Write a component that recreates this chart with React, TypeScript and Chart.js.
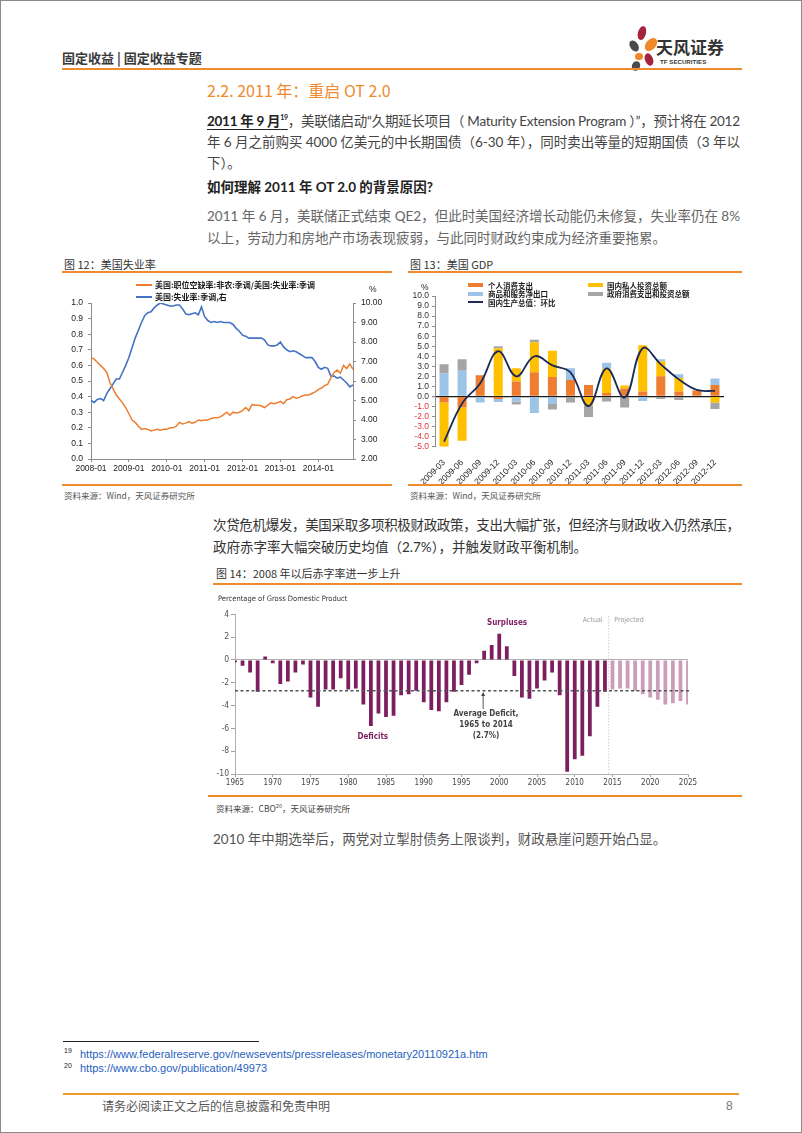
import React, { useEffect, useLayoutEffect, useRef } from "react";
import { Chart, registerables } from "chart.js";

Chart.register(...registerables);

const BODY_FONT = "Lato, 'Noto Sans CJK SC', sans-serif";
const CJK_FONT = "'Noto Sans CJK SC', 'Noto Sans', sans-serif";
const ARIAL = "'Liberation Sans', Arial, sans-serif";
const NARROW = "'Liberation Sans Narrow', 'DejaVu Sans Condensed', 'Liberation Sans', sans-serif";
const ORANGE_RULE = "#EE8C2C";

// ---------------- Figure 12 data ----------------
const F12_YEARS = ["2008", "2009", "2010", "2011", "2012", "2013", "2014"];
const F12_MONTH_NUMS = ["01", "02", "03", "04", "05", "06", "07", "08", "09", "10", "11", "12"];
const F12_MONTHS = F12_YEARS.flatMap((y) => F12_MONTH_NUMS.map((m) => `${y}-${m}`));
const F12_LEGEND = ["美国:职位空缺率:非农:季调/美国:失业率:季调", "美国:失业率:季调,右"];
const F12_RATIO = [
  0.65, 0.64, 0.62, 0.6, 0.58, 0.555, 0.49, 0.45, 0.41, 0.385, 0.36, 0.33,
  0.29, 0.25, 0.235, 0.21, 0.19, 0.195, 0.19, 0.18, 0.185, 0.19, 0.185, 0.19,
  0.19, 0.2, 0.2, 0.21, 0.235, 0.225, 0.23, 0.24, 0.23, 0.235, 0.25, 0.245,
  0.25, 0.25, 0.26, 0.265, 0.265, 0.27, 0.285, 0.3, 0.28, 0.3, 0.295, 0.3,
  0.31, 0.33, 0.31, 0.35, 0.345, 0.345, 0.34, 0.33, 0.345, 0.36, 0.355, 0.36,
  0.37, 0.355, 0.38, 0.385, 0.4, 0.39, 0.395, 0.405, 0.41, 0.41, 0.42, 0.43,
  0.445, 0.455, 0.47, 0.48, 0.52, 0.555, 0.57, 0.55, 0.6, 0.58, 0.61, 0.575,
];
const F12_UNRATE = [
  5.0, 4.9, 5.05, 5.1, 5.0, 5.35, 5.6, 5.85, 6.1, 6.1, 6.45, 6.8,
  7.2, 7.7, 8.2, 8.6, 9.0, 9.35, 9.5, 9.55, 9.75, 9.9, 10.0, 9.95,
  9.9, 9.85, 9.85, 9.9, 9.9, 9.7, 9.45, 9.4, 9.45, 9.5, 9.4, 9.8,
  9.3, 9.1, 9.0, 9.05, 9.0, 9.05, 9.0, 9.0, 9.0, 8.9, 8.7, 8.55,
  8.35, 8.3, 8.2, 8.2, 8.2, 8.2, 8.2, 8.1, 7.85, 7.8, 7.8, 7.85,
  8.0, 7.75, 7.6, 7.5, 7.55, 7.5, 7.4, 7.3, 7.2, 7.2, 7.2, 7.0,
  6.7, 6.6, 6.7, 6.65, 6.25, 6.25, 6.15, 6.2, 6.05, 5.9, 5.7, 5.8,
];

// ---------------- Figure 13 data ----------------
const F13_QUARTERS = [
  "2009-03", "2009-06", "2009-09", "2009-12", "2010-03", "2010-06", "2010-09", "2010-12",
  "2011-03", "2011-06", "2011-09", "2011-12", "2012-03", "2012-06", "2012-09", "2012-12",
];
const F13_LEGEND = ["个人消费支出", "国内私人投资总额", "商品和服务净出口", "政府消费支出和投资总额", "国内生产总值：环比"];
const F13_PCE = [-0.6, -1.1, 2.1, -0.25, 1.5, 2.4, 1.95, 1.65, 1.15, 0.35, 0.8, 0.5, 2.0, 0.5, 0.6, 1.15];
const F13_INV = [-4.4, -3.3, 0, 4.8, 1.3, 3.0, 2.6, 0, -0.9, 2.4, 0.3, 4.6, 1.5, 1.35, 0, -0.6];
const F13_NX = [2.3, 2.55, -0.6, -0.3, -0.5, -1.65, -0.75, 1.15, 0, 0.6, 0, -0.45, 0.2, 0.35, 0, 0.65];
const F13_GOV = [0.9, 1.15, 0, 0.2, -0.3, 0.25, -0.55, -0.6, -1.15, -0.5, -1.1, 0, -0.25, -0.35, 0, -0.65];
const F13_GDP = [-4.5, -0.7, 1.3, 4.5, 2.0, 4.0, 3.1, 2.4, -0.95, 2.8, -0.1, 4.8, 3.2, 1.7, 0.65, 0.55];
const F13_COLORS = ["#ED7D31", "#FFC000", "#9DC3E6", "#A5A5A5", "#1C2A57"];

// ---------------- Figure 14 data ----------------
const F14_FIRST_YEAR = 1965;
const F14_DEFICIT = [
  -0.2, -0.5, -1.1, -2.8, 0.3, -0.3, -2.1, -1.9, -1.1, -0.4,
  -3.3, -4.1, -2.6, -2.6, -1.6, -2.6, -2.5, -3.9, -5.8, -4.7,
  -5.0, -4.9, -3.1, -3.0, -2.7, -3.7, -4.4, -4.5, -3.7, -2.8,
  -2.2, -1.3, -0.3, 0.8, 1.3, 2.3, 1.2, -1.4, -3.3, -3.4,
  -2.5, -1.8, -1.1, -3.1, -9.8, -8.7, -8.4, -6.7, -4.1, -2.8,
  -2.6, -2.5, -2.5, -2.7, -3.0, -3.3, -3.5, -3.9, -3.8, -3.6, -3.9,
];
const F14_YEARS = F14_DEFICIT.map((_, i) => String(F14_FIRST_YEAR + i));
const F14_LAST_ACTUAL = "2014";
const F14_ARROW_YEAR = "1998";
const F14_AVG = -2.7;
const F14_PURPLE = "#7D1E60";
const F14_PINK = "#CC9DBA";

// ---------------- helpers ----------------
function TextLine(props: any) {
  const { x, y, w, size = 13.5, color = "#444", weight = 400, fit = false, family = BODY_FONT, children, style } = props;
  const ref = useRef<HTMLSpanElement>(null);
  useLayoutEffect(() => {
    const el = ref.current;
    if (!fit || !el) return;
    const apply = () => {
      el.style.letterSpacing = "0px";
      const width = el.getBoundingClientRect().width;
      const n = (el.textContent || "").length;
      if (n > 1) el.style.letterSpacing = (w - width) / (n - 1) + "px";
    };
    apply();
    const fonts = (document as any).fonts;
    if (fonts && fonts.ready) fonts.ready.then(apply);
  }, []);
  const h = Math.round(size * 1.5);
  return (
    <div
      style={{
        position: "absolute",
        left: x,
        top: y - h / 2,
        height: h,
        lineHeight: h + "px",
        whiteSpace: "nowrap",
        fontSize: size,
        color,
        fontWeight: weight,
        fontFamily: family,
        ...style,
      }}
    >
      <span ref={ref} style={{ display: "inline-block" }}>
        {children}
      </span>
    </div>
  );
}

function Rule({ x, y, w, h = 1.5, color = ORANGE_RULE }: any) {
  return <div style={{ position: "absolute", left: x, top: y - h / 2, width: w, height: h, background: color }} />;
}

function useChart(ref: any, build: () => any) {
  useEffect(() => {
    if (!ref.current) return;
    const chart = new Chart(ref.current, build());
    return () => chart.destroy();
  }, []);
}

// ---------------- Figure 12 ----------------
function Fig12() {
  const ref = useRef<HTMLCanvasElement>(null);
  useChart(ref, () => ({
    type: "line",
    data: {
      labels: F12_MONTHS,
      datasets: [
        { label: F12_LEGEND[0], data: F12_RATIO, borderColor: "#ED7D31", borderWidth: 1.5, pointRadius: 0, yAxisID: "y", tension: 0 },
        { label: F12_LEGEND[1], data: F12_UNRATE, borderColor: "#4472C4", borderWidth: 1.6, pointRadius: 0, yAxisID: "y1", tension: 0 },
      ],
    },
    options: {
      animation: false,
      responsive: false,
      maintainAspectRatio: false,
      layout: { padding: { top: 29, right: 0, left: 0, bottom: 0 } },
      plugins: { legend: { display: false }, tooltip: { enabled: false } },
      scales: {
        x: {
          type: "category",
          offset: false,
          grid: {
            display: true,
            drawOnChartArea: false,
            tickLength: 3,
            color: (c: any) => (c.index % 12 === 0 ? "#8c8c8c" : "rgba(0,0,0,0)"),
          },
          border: { color: "#8c8c8c" },
          ticks: {
            autoSkip: false,
            maxRotation: 0,
            minRotation: 0,
            padding: 2,
            color: "#222",
            font: { family: ARIAL, size: 8.5 },
            callback: (_v: any, i: number) => (i % 12 === 0 ? F12_MONTHS[i] : ""),
          },
          afterFit: (s: any) => {
            s.height = 25;
          },
        },
        y: {
          position: "left",
          min: 0,
          max: 1,
          ticks: { autoSkip: false, stepSize: 0.1, padding: 5, color: "#222", font: { family: ARIAL, size: 8.5 }, callback: (v: any) => Number(v).toFixed(1) },
          grid: { drawOnChartArea: false, tickLength: 3, color: "#8c8c8c" },
          border: { color: "#8c8c8c" },
          afterFit: (s: any) => {
            s.width = 29;
          },
        },
        y1: {
          position: "right",
          min: 2,
          max: 10,
          ticks: { autoSkip: false, stepSize: 1, padding: 5, color: "#222", font: { family: ARIAL, size: 8.5 }, callback: (v: any) => Number(v).toFixed(2) },
          grid: { drawOnChartArea: false, tickLength: 3, color: "#8c8c8c" },
          border: { color: "#8c8c8c" },
          afterFit: (s: any) => {
            s.width = 39;
          },
        },
      },
    },
  }));
  return (
    <>
      <canvas ref={ref} width={330} height={210} style={{ position: "absolute", left: 62, top: 274, width: 330, height: 210 }} />
      <div style={{ position: "absolute", left: 136, top: 284, width: 16, height: 1.8, background: "#ED7D31" }} />
      <TextLine x={155} y={285} size={8} family={CJK_FONT} weight={700} color="#1a1a1a">
        {F12_LEGEND[0]}
      </TextLine>
      <div style={{ position: "absolute", left: 136, top: 295.8, width: 16, height: 1.8, background: "#4472C4" }} />
      <TextLine x={155} y={296.7} size={8} family={CJK_FONT} weight={700} color="#1a1a1a">
        {F12_LEGEND[1]}
      </TextLine>
      <TextLine x={369} y={289} size={8.5} family={ARIAL} color="#222">
        %
      </TextLine>
    </>
  );
}

// ---------------- Figure 13 ----------------
function Fig13() {
  const ref = useRef<HTMLCanvasElement>(null);
  useChart(ref, () => ({
    type: "bar",
    data: {
      labels: F13_QUARTERS,
      datasets: [
        { type: "line", label: F13_LEGEND[4], data: F13_GDP, borderColor: F13_COLORS[4], borderWidth: 1.8, pointRadius: 0, tension: 0.4, stack: "line", order: 0 },
        { type: "bar", label: F13_LEGEND[0], data: F13_PCE, backgroundColor: F13_COLORS[0], stack: "bars", order: 1 },
        { type: "bar", label: F13_LEGEND[1], data: F13_INV, backgroundColor: F13_COLORS[1], stack: "bars", order: 1 },
        { type: "bar", label: F13_LEGEND[2], data: F13_NX, backgroundColor: F13_COLORS[2], stack: "bars", order: 1 },
        { type: "bar", label: F13_LEGEND[3], data: F13_GOV, backgroundColor: F13_COLORS[3], stack: "bars", order: 1 },
      ],
    },
    options: {
      animation: false,
      responsive: false,
      maintainAspectRatio: false,
      datasets: { bar: { barPercentage: 0.5, categoryPercentage: 1 } },
      layout: { padding: { top: 22, right: 18, left: 0, bottom: 0 } },
      plugins: { legend: { display: false }, tooltip: { enabled: false } },
      scales: {
        x: {
          type: "category",
          stacked: true,
          offset: true,
          grid: { display: false },
          border: { display: false },
          ticks: { autoSkip: false, minRotation: 45, maxRotation: 45, padding: 3, color: "#222", font: { family: ARIAL, size: 8.5 } },
          afterFit: (s: any) => {
            s.height = 37.3;
          },
        },
        y: {
          stacked: true,
          min: -5,
          max: 10,
          ticks: {
            autoSkip: false,
            stepSize: 1,
            padding: 3,
            font: { family: ARIAL, size: 8.5 },
            color: (c: any) => (c.tick && c.tick.value < 0 ? "#E2363E" : "#333"),
            callback: (v: any) => Number(v).toFixed(1),
          },
          grid: {
            drawOnChartArea: true,
            tickLength: 3,
            tickColor: "#8c8c8c",
            color: (c: any) => (c.tick && Math.abs(c.tick.value) < 1e-9 ? "#1a1a1a" : "rgba(0,0,0,0)"),
            lineWidth: (c: any) => (c.tick && Math.abs(c.tick.value) < 1e-9 ? 1.2 : 1),
          },
          border: { color: "#8c8c8c" },
          afterFit: (s: any) => {
            s.width = 27;
          },
        },
      },
    },
  }));
  const box = (x: number, y: number, c: string) => (
    <div style={{ position: "absolute", left: x, top: y - 2.3, width: 15, height: 4.6, background: c }} />
  );
  const rows = [285, 293.8, 302.4];
  return (
    <>
      <canvas ref={ref} width={334} height={210} style={{ position: "absolute", left: 408, top: 274, width: 334, height: 210 }} />
      <TextLine x={421} y={287} size={8.5} family={ARIAL} color="#222">
        %
      </TextLine>
      {box(468, rows[0], F13_COLORS[0])}
      <TextLine x={488} y={rows[0]} size={7.5} family={CJK_FONT} weight={700} color="#1a1a1a">
        {F13_LEGEND[0]}
      </TextLine>
      {box(588, rows[0], F13_COLORS[1])}
      <TextLine x={607} y={rows[0]} size={7.5} family={CJK_FONT} weight={700} color="#1a1a1a">
        {F13_LEGEND[1]}
      </TextLine>
      {box(468, rows[1], F13_COLORS[2])}
      <TextLine x={488} y={rows[1]} size={7.5} family={CJK_FONT} weight={700} color="#1a1a1a">
        {F13_LEGEND[2]}
      </TextLine>
      {box(588, rows[1], F13_COLORS[3])}
      <TextLine x={607} y={rows[1]} size={7.5} family={CJK_FONT} weight={700} color="#1a1a1a">
        {F13_LEGEND[3]}
      </TextLine>
      <div style={{ position: "absolute", left: 468, top: rows[2] - 1, width: 15, height: 2, background: F13_COLORS[4] }} />
      <TextLine x={488} y={rows[2]} size={7.5} family={CJK_FONT} weight={700} color="#1a1a1a">
        {F13_LEGEND[4]}
      </TextLine>
    </>
  );
}

// ---------------- Figure 14 ----------------
const f14Overlay = {
  id: "f14Overlay",
  afterDatasetsDraw(chart: any) {
    const { ctx, chartArea, scales } = chart;
    const x = scales.x;
    const y = scales.y;
    ctx.save();
    const yAvg = y.getPixelForValue(F14_AVG);
    ctx.strokeStyle = "#555";
    ctx.lineWidth = 1.3;
    ctx.setLineDash([3, 2.5]);
    ctx.beginPath();
    ctx.moveTo(chartArea.left, yAvg);
    ctx.lineTo(chartArea.right + 2, yAvg);
    ctx.stroke();
    const i = F14_YEARS.indexOf(F14_LAST_ACTUAL);
    const xd = (x.getPixelForValue(i) + x.getPixelForValue(i + 1)) / 2;
    ctx.strokeStyle = "#b8b8b8";
    ctx.lineWidth = 1;
    ctx.setLineDash([1, 2]);
    ctx.beginPath();
    ctx.moveTo(xd, chartArea.top + 2);
    ctx.lineTo(xd, chartArea.bottom);
    ctx.stroke();
    const xa = x.getPixelForValue(F14_YEARS.indexOf(F14_ARROW_YEAR)) - 1;
    const yTip = y.getPixelForValue(F14_AVG - 0.12);
    const yTail = y.getPixelForValue(F14_AVG - 1.6);
    ctx.setLineDash([]);
    ctx.strokeStyle = "#444";
    ctx.fillStyle = "#444";
    ctx.lineWidth = 0.9;
    ctx.beginPath();
    ctx.moveTo(xa, yTail);
    ctx.lineTo(xa, yTip + 3);
    ctx.stroke();
    ctx.beginPath();
    ctx.moveTo(xa, yTip);
    ctx.lineTo(xa - 2, yTip + 4);
    ctx.lineTo(xa + 2, yTip + 4);
    ctx.closePath();
    ctx.fill();
    ctx.restore();
  },
};

function Fig14() {
  const ref = useRef<HTMLCanvasElement>(null);
  useChart(ref, () => ({
    type: "bar",
    data: {
      labels: F14_YEARS,
      datasets: [
        {
          label: "Deficit",
          data: F14_DEFICIT,
          backgroundColor: F14_YEARS.map((yr) => (Number(yr) <= Number(F14_LAST_ACTUAL) ? F14_PURPLE : F14_PINK)),
          barPercentage: 0.5,
          categoryPercentage: 1,
        },
      ],
    },
    plugins: [f14Overlay],
    options: {
      animation: false,
      responsive: false,
      maintainAspectRatio: false,
      layout: { padding: { top: 28.3, right: 54, left: 0, bottom: 0 } },
      plugins: { legend: { display: false }, tooltip: { enabled: false } },
      scales: {
        x: {
          type: "category",
          offset: false,
          grid: {
            offset: false,
            drawOnChartArea: false,
            tickLength: 3,
            color: (c: any) => (Number(F14_YEARS[c.index]) % 5 === 0 ? "#a0a0a0" : "rgba(0,0,0,0)"),
          },
          border: { color: "#b0b0b0" },
          ticks: {
            autoSkip: false,
            maxRotation: 0,
            minRotation: 0,
            padding: 1,
            color: "#444",
            font: { family: NARROW, size: 8 },
            callback: (_v: any, i: number) => (Number(F14_YEARS[i]) % 5 === 0 ? F14_YEARS[i] : ""),
          },
          afterFit: (s: any) => {
            s.height = 21;
          },
        },
        y: {
          min: -10,
          max: 4,
          ticks: { autoSkip: false, stepSize: 2, padding: 2, color: "#555", font: { family: NARROW, size: 8.5 } },
          grid: {
            drawOnChartArea: true,
            tickLength: 4,
            tickColor: "#a0a0a0",
            color: (c: any) => (c.tick && c.tick.value === 0 ? "#b0b0b0" : "rgba(0,0,0,0)"),
          },
          border: { color: "#b0b0b0" },
          afterFit: (s: any) => {
            s.width = 22;
          },
        },
      },
    },
  }));
  const ann = { fontFamily: NARROW, fontWeight: 700 };
  return (
    <>
      <canvas ref={ref} width={529} height={209} style={{ position: "absolute", left: 213, top: 586, width: 529, height: 209 }} />
      <TextLine x={218} y={598} size={7.5} family={NARROW} color="#333">
        Percentage of Gross Domestic Product
      </TextLine>
      <TextLine x={487} y={622.7} size={8} family={NARROW} weight={700} color={F14_PURPLE}>
        Surpluses
      </TextLine>
      <TextLine x={357.5} y={736.7} size={8} family={NARROW} weight={700} color={F14_PURPLE}>
        Deficits
      </TextLine>
      {["Average Deficit,", "1965 to 2014", "(2.7%)"].map((t, k) => (
        <div
          key={k}
          style={{
            position: "absolute",
            left: 446,
            width: 80,
            top: 714 + k * 10.9 - 6,
            height: 12,
            lineHeight: "12px",
            textAlign: "center",
            fontSize: 8,
            color: "#444",
            whiteSpace: "nowrap",
            ...ann,
          }}
        >
          {t}
        </div>
      ))}
      <div style={{ position: "absolute", left: 560, width: 42.5, top: 614, height: 12, lineHeight: "12px", textAlign: "right", fontSize: 7, color: "#999", fontFamily: NARROW }}>
        Actual
      </div>
      <div style={{ position: "absolute", left: 614.3, top: 614, height: 12, lineHeight: "12px", fontSize: 7, color: "#999", fontFamily: NARROW }}>
        Projected
      </div>
    </>
  );
}

// ---------------- Logo ----------------
const PETALS = [
  { cx: 641.5, cy: 33, rx: 3.8, ry: 6.8, rot: 15, c: "#A3243C" },
  { cx: 650.5, cy: 44, rx: 5, ry: 7.5, rot: 40, c: "#F0892A" },
  { cx: 633.5, cy: 46, rx: 4, ry: 5.8, rot: -35, c: "#4B4B4B" },
  { cx: 639, cy: 56.5, rx: 3.6, ry: 3.6, rot: 0, c: "#F0892A" },
  { cx: 649, cy: 59.5, rx: 4, ry: 6.5, rot: -20, c: "#A3243C" },
  { cx: 636, cy: 66, rx: 4, ry: 5, rot: 25, c: "#4B4B4B" },
];

function Logo() {
  return (
    <>
      {PETALS.map((p, i) => (
        <div
          key={i}
          style={{
            position: "absolute",
            left: p.cx - p.rx,
            top: p.cy - p.ry,
            width: p.rx * 2,
            height: p.ry * 2,
            borderRadius: "50%",
            background: p.c,
            transform: `rotate(${p.rot}deg)`,
          }}
        />
      ))}
      <TextLine x={656} y={47} size={17} family={CJK_FONT} weight={700} color="#333">
        天风证券
      </TextLine>
      <TextLine x={660} y={62} size={6} family={ARIAL} weight={700} color="#333" style={{ letterSpacing: "0.1px" }}>
        TF SECURITIES
      </TextLine>
    </>
  );
}

// ---------------- App ----------------
export default function App() {
  const sup = { fontSize: 7, verticalAlign: "6px", lineHeight: 0 } as any;
  return (
    <div
      style={{
        position: "absolute",
        left: 0,
        top: 0,
        width: 802,
        height: 1133,
        boxSizing: "border-box",
        border: "1px solid #8a8a8a",
        background: "#fff",
        overflow: "hidden",
        fontFamily: CJK_FONT,
      }}
    >
      <div style={{ position: "absolute", left: -1, top: -1, width: 802, height: 1133 }}>
        {/* header */}
        <TextLine x={62} y={58} size={13} family={CJK_FONT} weight={700} color="#3a3a3a">
          固定收益 | 固定收益专题
        </TextLine>
        <Logo />
        <Rule x={62} y={68.5} w={680} h={2} />

        {/* section 2.2 */}
        <TextLine x={207} y={90} size={16} family={CJK_FONT} color="#EE8A2B">
          2.2. 2011 年：重启 OT 2.0
        </TextLine>

        <TextLine x={207} y={121} w={533} fit size={13.5} color="#444">
          <span style={{ fontWeight: 700, color: "#222", textDecoration: "underline", textUnderlineOffset: "3px" }}>
            2011 年 9 月<span style={sup}>19</span>
          </span>
          ，美联储启动“久期延长项目（ Maturity Extension Program ）”，预计将在 2012
        </TextLine>
        <TextLine x={207} y={142} w={533} fit size={13.5} color="#444">
          年 6 月之前购买 4000 亿美元的中长期国债（6-30 年），同时卖出等量的短期国债（3 年以
        </TextLine>
        <TextLine x={207} y={163} size={13.5} color="#444">
          下）。
        </TextLine>

        <TextLine x={207} y={187} size={13.5} weight={700} color="#222" style={{ textDecoration: "underline", textUnderlineOffset: "4px" }}>
          如何理解 2011 年 OT 2.0 的背景原因?
        </TextLine>

        <TextLine x={207} y={216} w={533} fit size={13.5} color="#666">
          2011 年 6 月，美联储正式结束 QE2，但此时美国经济增长动能仍未修复，失业率仍在 8%
        </TextLine>
        <TextLine x={207} y={238} size={13.5} color="#666">
          以上，劳动力和房地产市场表现疲弱，与此同时财政约束成为经济重要拖累。
        </TextLine>

        {/* figure 12 & 13 captions */}
        <TextLine x={64} y={264} size={11} family={CJK_FONT} color="#333">
          图 12：美国失业率
        </TextLine>
        <Rule x={62} y={272} w={330} h={1.5} />
        <TextLine x={410} y={264} size={11} family={CJK_FONT} color="#333">
          图 13：美国 GDP
        </TextLine>
        <Rule x={408} y={272} w={334} h={1.5} />

        <Fig12 />
        <Fig13 />

        <Rule x={62} y={485} w={330} h={1.5} />
        <Rule x={408} y={485} w={334} h={1.5} />
        <TextLine x={64} y={495} size={8.5} family={CJK_FONT} color="#555">
          资料来源：Wind，天风证券研究所
        </TextLine>
        <TextLine x={410} y={495} size={8.5} family={CJK_FONT} color="#555">
          资料来源：Wind，天风证券研究所
        </TextLine>

        <TextLine x={213} y={525} w={527} fit size={13.5} color="#333">
          次贷危机爆发，美国采取多项积极财政政策，支出大幅扩张，但经济与财政收入仍然承压，
        </TextLine>
        <TextLine x={213} y={547} size={13.5} color="#333">
          政府赤字率大幅突破历史均值（2.7%），并触发财政平衡机制。
        </TextLine>

        {/* figure 14 */}
        <TextLine x={216} y={573} size={11} family={CJK_FONT} color="#333">
          图 14：2008 年以后赤字率进一步上升
        </TextLine>
        <Rule x={213} y={584} w={529} h={1.5} />
        <Fig14 />
        <Rule x={208} y={796} w={534} h={1.5} />
        <TextLine x={216} y={808} size={8.5} family={CJK_FONT} color="#444">
          资料来源：CBO<span style={{ fontSize: 5.5, verticalAlign: "4px", lineHeight: 0 }}>20</span>，天风证券研究所
        </TextLine>

        <TextLine x={213} y={839} size={13.5} color="#555">
          2010 年中期选举后，两党对立掣肘债务上限谈判，财政悬崖问题开始凸显。
        </TextLine>

        {/* footnotes */}
        <Rule x={63} y={1041} w={196} h={1} color="#222" />
        <TextLine x={64} y={1050} size={7} family={ARIAL} color="#222">
          19
        </TextLine>
        <TextLine x={80} y={1054} size={11} family={ARIAL} color="#1F5FBF" style={{ textDecoration: "underline" }}>
          https://www.federalreserve.gov/newsevents/pressreleases/monetary20110921a.htm
        </TextLine>
        <TextLine x={64} y={1065} size={7} family={ARIAL} color="#222">
          20
        </TextLine>
        <TextLine x={80} y={1068} size={11} family={ARIAL} color="#1F5FBF" style={{ textDecoration: "underline" }}>
          https://www.cbo.gov/publication/49973
        </TextLine>

        {/* footer */}
        <Rule x={63} y={1094} w={676} h={2} color="#EE9A2A" />
        <TextLine x={102} y={1106} size={12} family={CJK_FONT} color="#555">
          请务必阅读正文之后的信息披露和免责申明
        </TextLine>
        <TextLine x={726} y={1106} size={12} family={ARIAL} color="#777">
          8
        </TextLine>
      </div>
    </div>
  );
}
